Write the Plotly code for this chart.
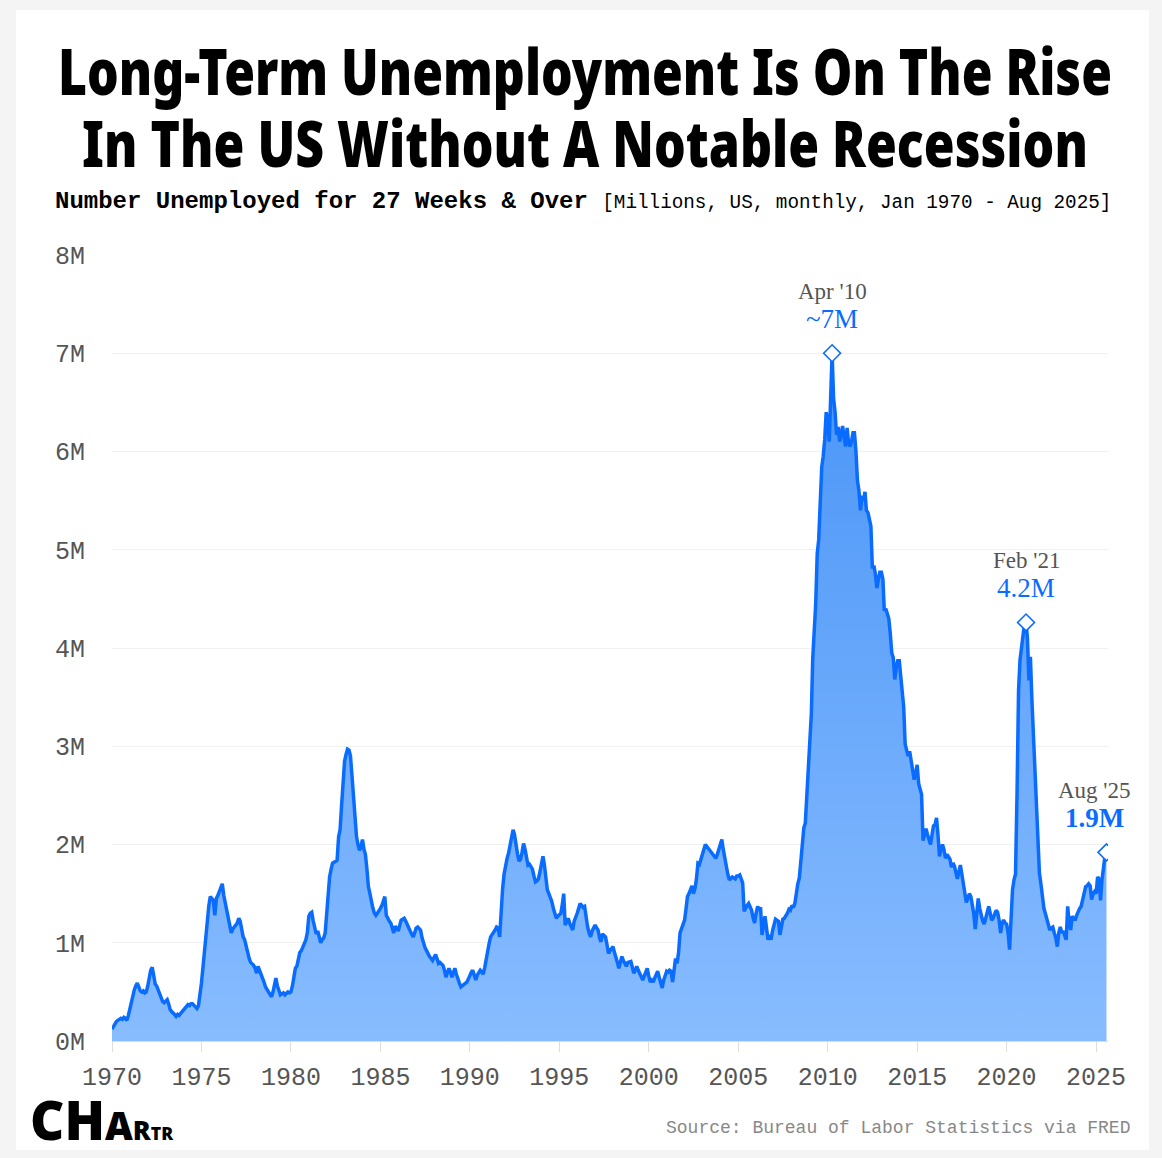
import pandas as pd
import plotly.graph_objects as go

# Long-term unemployed (27 weeks & over), millions, monthly from Jan 1970
values_1970s = [
    0.12, 0.15, 0.18, 0.20, 0.21, 0.22, 0.23, 0.22, 0.24, 0.23, 0.21, 0.26,
    0.33, 0.42, 0.49, 0.52, 0.56, 0.59, 0.55, 0.51, 0.50, 0.51, 0.49, 0.50,
    0.56, 0.66, 0.72, 0.75, 0.64, 0.58, 0.56, 0.52, 0.48, 0.45, 0.40, 0.39,
    0.40, 0.42, 0.38, 0.32, 0.30, 0.29, 0.27, 0.25, 0.27, 0.26, 0.28, 0.30,
    0.31, 0.33, 0.35, 0.37, 0.36, 0.38, 0.38, 0.36, 0.35, 0.33, 0.36, 0.45,
    0.59, 0.75, 0.92, 1.10, 1.25, 1.38, 1.47, 1.45, 1.43, 1.28, 1.45, 1.48,
    1.52, 1.56, 1.60, 1.48, 1.40, 1.35, 1.28, 1.20, 1.10, 1.14, 1.17, 1.18,
    1.20, 1.25, 1.22, 1.12, 1.06, 1.03, 0.96, 0.88, 0.84, 0.80, 0.79, 0.77,
    0.74, 0.69, 0.76, 0.72, 0.70, 0.65, 0.60, 0.55, 0.52, 0.49, 0.47, 0.45,
    0.50, 0.57, 0.64, 0.56, 0.50, 0.47, 0.48, 0.49, 0.47, 0.49, 0.50, 0.49,
]
values_1980s = [
    0.50, 0.56, 0.66, 0.74, 0.76, 0.86, 0.90, 0.92, 0.96, 0.98, 1.03, 1.10,
    1.27, 1.30, 1.31, 1.22, 1.14, 1.09, 1.12, 1.06, 1.00, 1.03, 1.05, 1.10,
    1.30, 1.45, 1.67, 1.75, 1.81, 1.82, 1.83, 1.84, 2.08, 2.15, 2.40, 2.66,
    2.85, 2.92, 2.97, 2.96, 2.90, 2.70, 2.49, 2.30, 2.08, 2.00, 1.94, 1.98,
    2.05, 1.95, 1.90, 1.75, 1.57, 1.50, 1.40, 1.35, 1.30, 1.28, 1.30, 1.32,
    1.35, 1.38, 1.42, 1.47, 1.28, 1.24, 1.22, 1.20, 1.15, 1.10, 1.17, 1.14,
    1.12, 1.18, 1.23, 1.24, 1.25, 1.22, 1.18, 1.15, 1.12, 1.09, 1.06, 1.10,
    1.15, 1.16, 1.14, 1.13, 1.05, 0.98, 0.95, 0.92, 0.88, 0.86, 0.84, 0.82,
    0.85, 0.88, 0.84, 0.79, 0.80, 0.78, 0.77, 0.72, 0.65, 0.70, 0.74, 0.70,
    0.65, 0.70, 0.74, 0.68, 0.62, 0.59, 0.55, 0.56, 0.57, 0.58, 0.60, 0.63,
]
values_1990s = [
    0.67, 0.70, 0.72, 0.66, 0.62, 0.67, 0.70, 0.72, 0.70, 0.68, 0.75, 0.85,
    0.93, 1.00, 1.06, 1.08, 1.10, 1.13, 1.16, 1.15, 1.06, 1.37, 1.55, 1.70,
    1.81, 1.86, 1.91, 1.98, 2.08, 2.15, 2.10, 1.98, 1.90, 1.83, 1.85, 1.92,
    2.01, 1.95, 1.85, 1.79, 1.80, 1.78, 1.75, 1.68, 1.62, 1.63, 1.65, 1.72,
    1.82, 1.88, 1.80, 1.65, 1.54, 1.50, 1.47, 1.42, 1.35, 1.30, 1.25, 1.27,
    1.28, 1.30, 1.38, 1.50, 1.18, 1.22, 1.25, 1.20, 1.16, 1.13, 1.22, 1.25,
    1.30, 1.35, 1.40, 1.38, 1.36, 1.37, 1.25, 1.16, 1.10, 1.06, 1.12, 1.16,
    1.18, 1.15, 1.13, 1.05, 1.01, 1.09, 1.07, 1.06, 0.98, 0.89, 0.92, 0.94,
    0.96, 0.90, 0.86, 0.80, 0.74, 0.80, 0.86, 0.82, 0.79, 0.76, 0.80, 0.81,
    0.81, 0.75, 0.69, 0.72, 0.76, 0.72, 0.69, 0.65, 0.62, 0.66, 0.70, 0.74,
]
values_2000s = [
    0.66, 0.60, 0.62, 0.60, 0.64, 0.67, 0.71, 0.65, 0.60, 0.54, 0.62, 0.68,
    0.71, 0.70, 0.72, 0.71, 0.60, 0.72, 0.84, 0.79, 0.90, 1.10, 1.15, 1.18,
    1.23, 1.35, 1.47, 1.50, 1.55, 1.58, 1.50, 1.55, 1.65, 1.81, 1.80, 1.85,
    1.91, 1.95, 2.00, 1.98, 1.96, 1.94, 1.93, 1.90, 1.88, 1.86, 1.90, 1.96,
    2.00, 2.05, 1.95, 1.85, 1.77, 1.70, 1.64, 1.65, 1.67, 1.66, 1.65, 1.68,
    1.68, 1.69, 1.66, 1.61, 1.32, 1.36, 1.38, 1.40, 1.36, 1.33, 1.25, 1.20,
    1.30, 1.37, 1.33, 1.36, 1.08, 1.20, 1.27, 1.15, 1.03, 1.08, 1.03, 1.12,
    1.18, 1.24, 1.23, 1.22, 1.08, 1.18, 1.24, 1.25, 1.27, 1.30, 1.34, 1.33,
    1.38, 1.36, 1.40, 1.52, 1.60, 1.66, 1.80, 1.98, 2.17, 2.22, 2.50, 2.82,
    3.10, 3.33, 3.89, 4.20, 4.45, 4.96, 5.10, 5.47, 5.84, 5.95, 6.12, 6.40,
]
values_2010s = [
    6.30, 6.10, 6.45, 7.00, 6.54, 6.40, 6.17, 6.25, 6.10, 6.20, 6.26, 6.15,
    6.05, 6.24, 6.10, 6.05, 6.10, 6.19, 6.19, 6.00, 5.70, 5.60, 5.40, 5.55,
    5.50, 5.59, 5.40, 5.38, 5.30, 5.24, 4.81, 4.84, 4.75, 4.61, 4.70, 4.77,
    4.77, 4.70, 4.38, 4.40, 4.35, 4.30, 4.15, 3.95, 3.90, 3.68, 3.80, 3.87,
    3.87, 3.70, 3.48, 3.40, 3.02, 2.95, 2.90, 2.95, 2.85, 2.75, 2.66, 2.72,
    2.81, 2.62, 2.55, 2.51, 2.04, 2.12, 2.16, 2.10, 2.05, 2.00, 2.10, 2.19,
    2.20, 2.27, 2.10, 1.88, 1.95, 2.00, 1.95, 1.86, 1.90, 1.88, 1.85, 1.77,
    1.81, 1.78, 1.70, 1.65, 1.72, 1.79, 1.70, 1.61, 1.50, 1.41, 1.45, 1.50,
    1.47, 1.38, 1.30, 1.14, 1.30, 1.45, 1.35, 1.26, 1.22, 1.19, 1.25, 1.30,
    1.37, 1.30, 1.23, 1.25, 1.29, 1.33, 1.31, 1.23, 1.10, 1.20, 1.23, 1.20,
]
values_2020s = [
    1.19, 1.10, 0.93, 1.23, 1.54, 1.64, 1.70, 2.52, 3.57, 3.88, 4.02, 4.10,
    4.25, 4.26, 4.10, 3.67, 3.91, 3.47, 3.10, 2.86, 2.32, 2.00, 1.71, 1.60,
    1.47, 1.35, 1.30, 1.23, 1.18, 1.13, 1.15, 1.16, 1.10, 1.05, 0.96, 1.10,
    1.16, 1.10, 1.12, 1.08, 1.03, 1.37, 1.20, 1.13, 1.27, 1.25, 1.23, 1.28,
    1.33, 1.35, 1.37, 1.45, 1.50, 1.57, 1.58, 1.60, 1.58, 1.44, 1.50, 1.52,
    1.50, 1.67, 1.65, 1.43, 1.64, 1.80, 1.88, 1.92,
]

values = values_1970s + values_1980s + values_1990s + values_2000s + values_2010s + values_2020s
dates = pd.date_range("1970-01-01", periods=len(values), freq="MS")

tick_years = [1970, 1975, 1980, 1985, 1990, 1995, 2000, 2005, 2010, 2015, 2020, 2025]
y_ticks = [0, 1, 2, 3, 4, 5, 6, 7, 8]
y_tick_labels = [f"{v}M" for v in y_ticks]

peak_dates = ["2010-04-01", "2021-02-01", "2025-08-01"]
peak_months = ["Apr '10", "Feb '21", "Aug '25"]
peak_texts = ["~7M", "4.2M", "<b>1.9M</b>"]
peak_xshift = [0, 0, -12]

LINE = "#0a6cff"
GRAY = "#555555"
MONO = "Liberation Mono, DejaVu Sans Mono, monospace"
SERIF = "Liberation Serif, DejaVu Serif, serif"
HEAVY = "Noto Sans, Roboto, sans-serif"

series = pd.Series(values, index=dates)
peak_vals = [float(series[pd.Timestamp(d)]) for d in peak_dates]

fig = go.Figure()
fig.add_trace(go.Scatter(
    x=dates, y=values, mode="lines",
    line=dict(color=LINE, width=3.5),
    fill="tozeroy",
    fillgradient=dict(type="vertical", colorscale=[[0, "#88bcff"], [1, "#4a95f7"]]),
    hoverinfo="skip",
))
fig.add_trace(go.Scatter(
    x=pd.to_datetime(peak_dates), y=peak_vals, mode="markers",
    marker=dict(symbol="diamond", size=13, color="white", line=dict(color=LINE, width=1.6)),
    hoverinfo="skip",
))

W, H = 1162, 1158
L, R, T, B = 112, 54, 255, 117
PW, PH = W - L - R, H - T - B

def px_to_paper_x(px):
    return (px - L) / PW

def px_to_paper_y(py):
    return (H - B - py) / PH

annotations = []
for d, m, t, v, xs in zip(peak_dates, peak_months, peak_texts, peak_vals, peak_xshift):
    annotations.append(dict(x=d, y=v, xref="x", yref="y", text=m, showarrow=False,
                            yshift=62, xshift=xs, font=dict(family=SERIF, size=23, color=GRAY)))
    annotations.append(dict(x=d, y=v, xref="x", yref="y", text=t, showarrow=False,
                            yshift=34, xshift=xs, font=dict(family=SERIF, size=27, color=LINE)))

title_font = dict(family=HEAVY, size=63, color="black", weight=900)
annotations += [
    dict(x=px_to_paper_x(585), y=px_to_paper_y(71), xref="paper", yref="paper",
         text="Long-Term Unemployment Is On The Rise",
         showarrow=False, font=title_font, xanchor="center", yanchor="middle"),   # index 6
    dict(x=px_to_paper_x(585), y=px_to_paper_y(142), xref="paper", yref="paper",
         text="In The US Without A Notable Recession",
         showarrow=False, font=title_font, xanchor="center", yanchor="middle"),   # index 7
    dict(x=px_to_paper_x(53), y=px_to_paper_y(201), xref="paper", yref="paper",
         text="<b>Number Unemployed for 27 Weeks & Over</b> "
              "<span style='font-size:19.3px;font-weight:normal'>[Millions, US, monthly, Jan 1970 - Aug 2025]</span>",
         showarrow=False, font=dict(family=MONO, size=24, color="black"),
         xanchor="left", yanchor="middle"),
    dict(x=px_to_paper_x(1132), y=px_to_paper_y(1128), xref="paper", yref="paper",
         text="Source: Bureau of Labor Statistics via FRED", showarrow=False,
         font=dict(family=MONO, size=18, color="#888888"), xanchor="right", yanchor="middle"),
    dict(x=px_to_paper_x(28), y=px_to_paper_y(1119), xref="paper", yref="paper",
         text="CH<span style='font-size:39px'>A</span>"
              "<span style='font-size:27px'>R</span><span style='font-size:18px'>TR</span>",
         showarrow=False, font=dict(family=HEAVY, size=54, color="black", weight=900),
         xanchor="left", yanchor="middle"),                                       # index 10
]

fig.update_layout(
    width=W, height=H,
    margin=dict(l=L, r=R, t=T, b=B, pad=0),
    paper_bgcolor="#f4f4f4",
    plot_bgcolor="white",
    showlegend=False,
    annotations=annotations,
    shapes=[dict(type="rect", xref="paper", yref="paper", layer="below",
                 x0=px_to_paper_x(16), x1=px_to_paper_x(1149),
                 y0=px_to_paper_y(1150), y1=px_to_paper_y(10),
                 fillcolor="white", line=dict(width=0))],
    xaxis=dict(
        range=["1970-01-01", "2025-09-01"],
        tickvals=[f"{y}-01-01" for y in tick_years],
        ticktext=[str(y) for y in tick_years],
        ticks="outside", ticklen=10, tickcolor="#dddddd", tickwidth=1,
        showgrid=False, zeroline=False,
        showline=True, linecolor="#dddddd", linewidth=1,
        tickfont=dict(family=MONO, size=25, color=GRAY),
        ticklabelstandoff=3,
    ),
    yaxis=dict(
        range=[0, 8],
        tickvals=y_ticks, ticktext=y_tick_labels,
        showgrid=True, gridcolor="#f0f0f0", gridwidth=1,
        zeroline=False, showline=False, ticks="",
        tickfont=dict(family=MONO, size=25, color=GRAY),
        ticklabelstandoff=26,
    ),
)

# Condense the heavy title / logo text horizontally to the reference widths
post_js = """
document.body.style.margin='0px';
document.body.style.background='#f4f4f4';
var gd = document.getElementById('{plot_id}');
[[6, 1054, 'center'], [7, 1006, 'center'], [10, 144, 'left center']].forEach(function(s) {
  var t = gd.querySelector('.annotation[data-index="' + s[0] + '"] .annotation-text');
  if (!t) return;
  var w = t.getBBox().width;
  if (!w) return;
  t.style.transformBox = 'fill-box';
  t.style.transformOrigin = s[2];
  t.style.transform = 'scaleX(' + (s[1] / w) + ')';
});
"""

fig.write_html("out.html", config={"displayModeBar": False}, post_script=post_js)
